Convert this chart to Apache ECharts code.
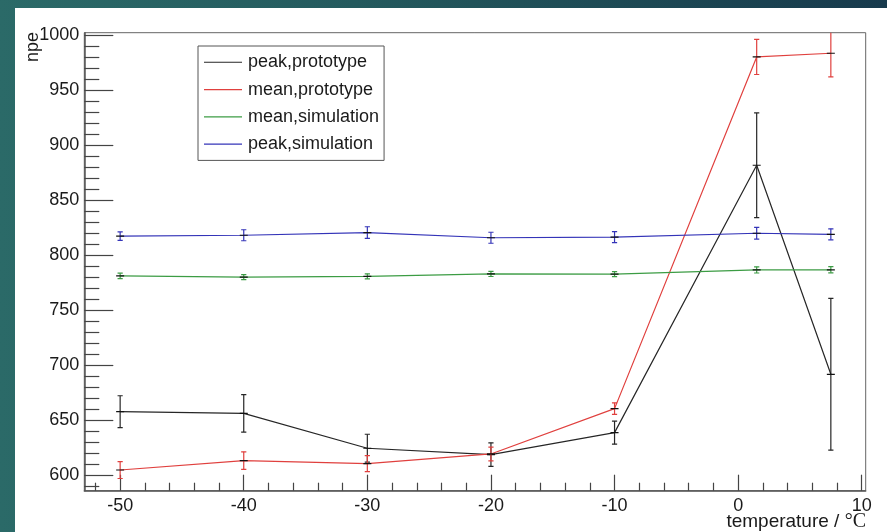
<!DOCTYPE html>
<html>
<head>
<meta charset="utf-8">
<script src="https://cdn.jsdelivr.net/npm/echarts@6/dist/echarts.min.js"></script>
<style>
  html, body { margin: 0; padding: 0; }
  body {
    width: 887px; height: 532px; overflow: hidden; position: relative;
    background: linear-gradient(90deg, #2b6a68 0%, #245a5e 40%, #173a4c 100%);
  }
  #sheet { position: absolute; left: 15px; top: 8px; width: 872px; height: 524px; background: #ffffff; }
  #chart { position: absolute; left: 0; top: 0; width: 887px; height: 532px; }
</style>
</head>
<body>
<div id="sheet"></div>
<div id="chart"></div>
<script>
// Temperatures of the measurement points (°C)
const temps = [-50, -40, -30, -20, -10, 1.5, 7.5];

// Number of photoelectrons with their uncertainties
const peakProto     = [657.5, 656.0, 624.3, 618.5, 638.5, 881.5, 691.5];
const peakProtoErr  = [14.5, 17.0, 12.7, 10.7, 10.5, 47.6, 69.0];
const meanProto     = [604.5, 613.0, 610.3, 619.1, 660.3, 980.0, 983.3];
const meanProtoErr  = [7.7, 8.0, 7.2, 6.2, 5.3, 16.0, 21.5];
const meanSim       = [780.9, 779.8, 780.5, 782.7, 782.5, 786.4, 786.5];
const meanSimErr    = [2.5, 2.3, 2.3, 2.3, 2.3, 2.8, 2.8];
const peakSim       = [817.1, 817.9, 820.3, 815.6, 816.1, 819.7, 818.7];
const peakSimErr    = [3.8, 5.0, 5.3, 5.0, 5.0, 5.3, 5.0];

// Axis ticks
const xMajor = [-50, -40, -30, -20, -10, 0, 10];
const xMinor = [-52, -48, -46, -44, -42, -38, -36, -34, -32, -28, -26, -24, -22,
                -18, -16, -14, -12, -8, -6, -4, -2, 2, 4, 6, 8];
const yMajor = [600, 650, 700, 750, 800, 850, 900, 950, 1000];
const yMinor = [590, 610, 620, 630, 640, 660, 670, 680, 690, 710, 720, 730, 740,
                760, 770, 780, 790, 810, 820, 830, 840, 860, 870, 880, 890,
                910, 920, 930, 940, 960, 970, 980, 990];

const X_MIN = -52.9, X_MAX = 10.32, Y_MIN = 585.7, Y_MAX = 1002;

const seriesDefs = [
  { name: 'peak,prototype',  values: peakProto, errors: peakProtoErr, color: '#262626' },
  { name: 'mean,prototype',  values: meanProto, errors: meanProtoErr, color: '#e0403e' },
  { name: 'mean,simulation', values: meanSim,   errors: meanSimErr,   color: '#3c9c44' },
  { name: 'peak,simulation', values: peakSim,   errors: peakSimErr,   color: '#3434b8' }
];

const FONT = 'Liberation Sans, Arial, sans-serif';

function errorBarRenderer(color) {
  return function (params, api) {
    const x = api.value(0), v = api.value(1), e = api.value(2);
    const hi = api.coord([x, v + e]);
    const lo = api.coord([x, v - e]);
    const mid = api.coord([x, v]);
    const cap = 2.6, cross = 4;
    const st = { stroke: color, lineWidth: 1.2 };
    return {
      type: 'group',
      children: [
        { type: 'line', shape: { x1: hi[0], y1: hi[1], x2: lo[0], y2: lo[1] }, style: st },
        { type: 'line', shape: { x1: hi[0] - cap, y1: hi[1], x2: hi[0] + cap, y2: hi[1] }, style: st },
        { type: 'line', shape: { x1: lo[0] - cap, y1: lo[1], x2: lo[0] + cap, y2: lo[1] }, style: st },
        { type: 'line', shape: { x1: mid[0] - cross, y1: mid[1], x2: mid[0] + cross, y2: mid[1] },
          style: { stroke: '#111', lineWidth: 1.2 } }
      ]
    };
  };
}

const series = [];
seriesDefs.forEach(function (d) {
  series.push({
    name: d.name,
    type: 'line',
    xAxisIndex: 0, yAxisIndex: 0,
    data: temps.map(function (t, i) { return [t, d.values[i]]; }),
    symbol: 'none',
    lineStyle: { color: d.color, width: 1.2 },
    itemStyle: { color: d.color },
    animation: false,
    z: 3
  });
  series.push({
    name: d.name,
    type: 'custom',
    xAxisIndex: 0, yAxisIndex: 0,
    clip: true,
    data: temps.map(function (t, i) { return [t, d.values[i], d.errors[i]]; }),
    renderItem: errorBarRenderer(d.color),
    itemStyle: { color: d.color },
    animation: false,
    z: 4
  });
});

const axisLineStyle = { color: '#555', width: 1.5 };
const labelStyle = { color: '#1a1a1a', fontSize: 18, fontFamily: FONT };
const plainNumber = function (v) { return String(v); };

const option = {
  animation: false,
  backgroundColor: 'transparent',
  grid: {
    left: 84.3, top: 32.7, right: 21.3, bottom: 41.3,
    show: true, borderColor: '#666', borderWidth: 1, backgroundColor: 'transparent'
  },
  legend: {
    left: 198, top: 46,
    orient: 'vertical',
    backgroundColor: '#fff',
    borderColor: '#555', borderWidth: 1,
    padding: [6, 5, 6, 6],
    itemWidth: 38, itemHeight: 1.2, itemGap: 6.8,
    icon: 'rect',
    textStyle: { fontSize: 18, fontFamily: FONT, color: '#1a1a1a', lineHeight: 20.5, padding: [0, 0, 0, 1] },
    data: seriesDefs.map(function (d) { return { name: d.name, itemStyle: { color: d.color } }; })
  },
  xAxis: [
    {
      type: 'value', min: X_MIN, max: X_MAX, position: 'bottom',
      axisLine: { show: true, onZero: false, lineStyle: axisLineStyle },
      axisTick: { show: true, inside: true, length: 16, customValues: xMajor, lineStyle: { color: '#444', width: 1.2 } },
      axisLabel: { show: true, margin: 6, customValues: xMajor, formatter: plainNumber, ...labelStyle },
      splitLine: { show: false }
    },
    {
      type: 'value', min: X_MIN, max: X_MAX, position: 'bottom', offset: 0,
      axisLine: { show: false, onZero: false },
      axisTick: { show: true, inside: true, length: 8, customValues: xMinor, lineStyle: { color: '#444', width: 1.2 } },
      axisLabel: { show: false },
      splitLine: { show: false }
    }
  ],
  yAxis: [
    {
      type: 'value', min: Y_MIN, max: Y_MAX, position: 'left',
      axisLine: { show: true, onZero: false, lineStyle: axisLineStyle },
      axisTick: { show: true, inside: true, length: 29, customValues: yMajor, lineStyle: { color: '#444', width: 1.2 } },
      axisLabel: { show: true, margin: 5, customValues: yMajor, formatter: plainNumber, ...labelStyle },
      splitLine: { show: false }
    },
    {
      type: 'value', min: Y_MIN, max: Y_MAX, position: 'left', offset: 0,
      axisLine: { show: false, onZero: false },
      axisTick: { show: true, inside: true, length: 15, customValues: yMinor, lineStyle: { color: '#444', width: 1.2 } },
      axisLabel: { show: false },
      splitLine: { show: false }
    }
  ],
  graphic: [
    {
      type: 'text', x: 33, y: 32, rotation: Math.PI / 2,
      style: { text: 'npe', fill: '#1a1a1a', font: '18px ' + FONT, align: 'right', verticalAlign: 'middle' }
    },
    {
      type: 'text', x: 866, y: 522,
      style: {
        text: '{s|temperature / }{t|°C}',
        align: 'right', verticalAlign: 'middle',
        rich: {
          s: { fontSize: 19, fontFamily: FONT, fill: '#1a1a1a' },
          t: { fontSize: 20, fontFamily: 'Liberation Serif, Times New Roman, serif', fill: '#1a1a1a' }
        }
      }
    }
  ],
  series: series
};

const chart = echarts.init(document.getElementById('chart'), null, { renderer: 'canvas' });
chart.setOption(option);
</script>
</body>
</html>
